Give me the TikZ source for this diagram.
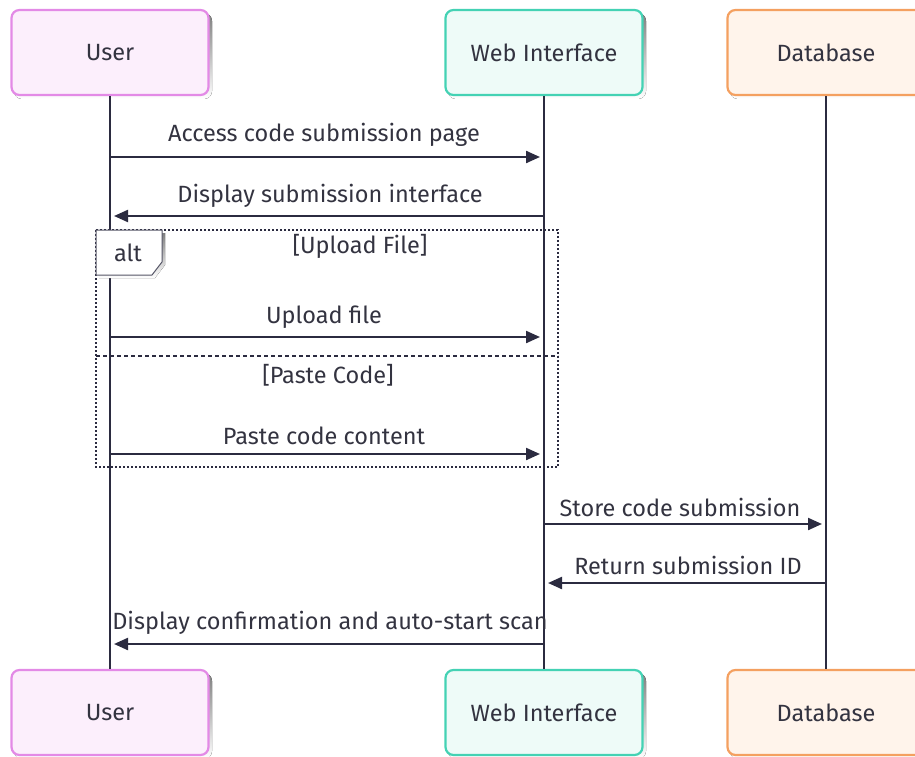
\documentclass[tikz,border=0pt]{standalone}
\usepackage{fontspec}
\setmainfont{Fira Sans}
\usetikzlibrary{arrows.meta}
\definecolor{ink}{HTML}{2B2B40}
\definecolor{txt}{HTML}{333340}
\definecolor{userfill}{HTML}{FCEFFC}
\definecolor{userline}{HTML}{E38AE6}
\definecolor{webfill}{HTML}{EEFBF8}
\definecolor{webline}{HTML}{44D2B4}
\definecolor{dbfill}{HTML}{FFF4EB}
\definecolor{dbline}{HTML}{F4A060}
\definecolor{shade}{HTML}{F0F0F0}
\tikzset{
  x=1pt, y=-1pt,
  actor/.style={minimum width=197pt, minimum height=85pt, rounded corners=8pt,
    line width=2.2pt, font=\fontsize{23.5}{27}\selectfont, text=txt, inner sep=0pt},
  userbox/.style={actor, draw=userline, fill=userfill},
  webbox/.style={actor, draw=webline, fill=webfill},
  dbbox/.style={actor, draw=dbline, fill=dbfill},
  lifeline/.style={draw=ink, line width=2pt},
  msg/.style={draw=ink, line width=2.2pt, -{Triangle[length=14pt,width=12pt]}},
  msgtext/.style={text=txt, font=\fontsize{23.5}{27}\selectfont, inner sep=0pt},
  frame/.style={draw=ink, line width=2pt, dotted},
}
\begin{document}
\begin{tikzpicture}
\useasboundingbox (0,0) rectangle (915,757);
\clip (0,0) rectangle (915,757);

% faint drop shadows under the participant boxes
\foreach \cx in {110,544,826}{
  \fill[shade, rounded corners=8pt] (\cx-96,13) rectangle (\cx+102,99);
  \fill[shade, rounded corners=8pt] (\cx-96,673) rectangle (\cx+102,759);
}

% participants, top and bottom
\node[userbox] (ut) at (110,52.5) {User};
\node[webbox]  (wt) at (544,52.5) {Web Interface};
\node[dbbox]   (dt) at (826,52.5) {Database};
\node[userbox] (ub) at (110,712.5) {User};
\node[webbox]  (wb) at (544,712.5) {Web Interface};
\node[dbbox]   (db) at (826,712.5) {Database};

% lifelines
\draw[lifeline] (ut.south) -- (ub.north);
\draw[lifeline] (wt.south) -- (wb.north);
\draw[lifeline] (dt.south) -- (db.north);

% alt frame with its two operands
\draw[frame] (96,230) rectangle (558,467);
\draw[ink, line width=2pt, dash pattern=on 4pt off 3pt] (96,356) -- (558,356);
\fill[shade] (99,233) -- (165,233) -- (165,265) -- (155,278) -- (99,278) -- cycle;
\coordinate (altc) at (96,230);
\draw[ink!80, line width=1pt, fill=white] (altc) -- (162,230) -- (162,262) -- (152,275) -- (96,275) -- cycle;
\node[msgtext] (altlabel) at (128,253) {alt};
\node[msgtext] (g1) at (360,246) {[Upload File]};
\node[msgtext] (g2) at (328,375) {[Paste Code]};

% message end points on the lifelines
\coordinate (m1a) at (ut.south |- 0,157);
\coordinate (m1b) at (wt.south |- 0,157);
\coordinate (m2a) at (wt.south |- 0,216);
\coordinate (m2b) at (ut.south |- 0,216);
\coordinate (m3a) at (ut.south |- 0,337);
\coordinate (m3b) at (wt.south |- 0,337);
\coordinate (m4a) at (ut.south |- 0,454);
\coordinate (m4b) at (wt.south |- 0,454);
\coordinate (m5a) at (wt.south |- 0,524);
\coordinate (m5b) at (dt.south |- 0,524);
\coordinate (m6a) at (dt.south |- 0,583);
\coordinate (m6b) at (wt.south |- 0,583);
\coordinate (m7a) at (wt.south |- 0,644);
\coordinate (m7b) at (ut.south |- 0,644);

% messages
\draw[msg, shorten >=4pt] (m1a) -- (m1b);
\node[msgtext] (t1) at (324,135) {Access code submission page};
\draw[msg, shorten >=4pt] (m2a) -- (m2b);
\node[msgtext] (t2) at (330,196) {Display submission interface};
\draw[msg, shorten >=4pt] (m3a) -- (m3b);
\node[msgtext] (t3) at (324,317) {Upload file};
\draw[msg, shorten >=4pt] (m4a) -- (m4b);
\node[msgtext] (t4) at (324,436) {Paste code content};
\draw[msg, shorten >=4pt] (m5a) -- (m5b);
\node[msgtext] (t5) at (680,507) {Store code submission};
\draw[msg, shorten >=4pt] (m6a) -- (m6b);
\node[msgtext] (t6) at (688,565) {Return submission ID};
\draw[msg, shorten >=4pt] (m7a) -- (m7b);
\node[msgtext] (t7) at (330,623) {Display confirmation and auto-start scan};
\end{tikzpicture}
\end{document}
